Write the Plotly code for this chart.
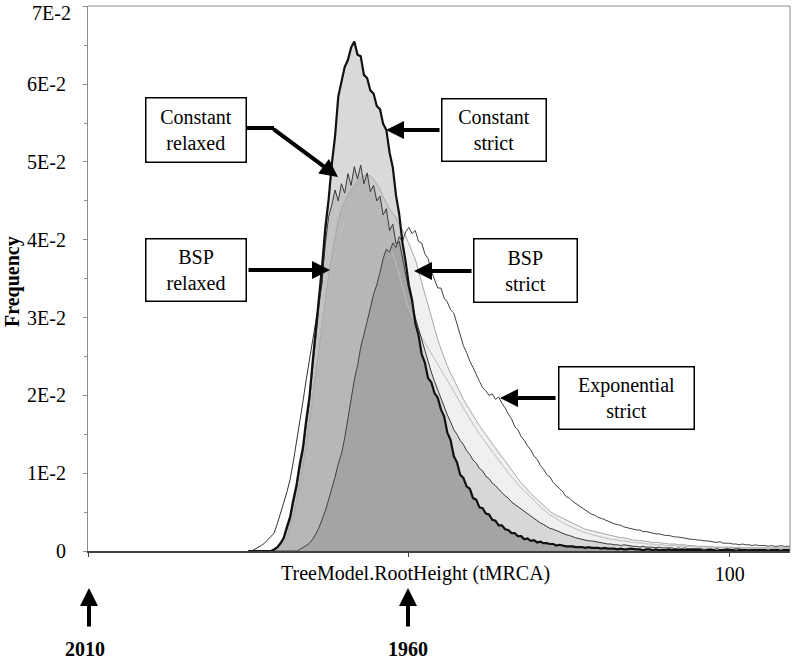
import plotly.graph_objects as go

# bins of the root-height histogram (years before 2010), 0.5 wide
bins = [25 + 0.5 * i for i in range(171)]

# frequencies in units of 1E-2
const_strict = [
    0, 0, 0, 0, 0, 0, 0, 0, 0.02, 0.05,
    0.1, 0.17, 0.31, 0.44, 0.66, 0.85, 1.12, 1.33, 1.68, 1.97,
    2.42, 2.83, 3.33, 3.68, 4.17, 4.52, 4.98, 5.33, 5.84, 6.02,
    6.22, 6.31, 6.47, 6.55, 6.38, 6.36, 6.12, 6.08, 5.92, 5.88,
    5.72, 5.68, 5.49, 5.41, 5.12, 4.93, 4.57, 4.33, 3.97, 3.72,
    3.42, 3.23, 2.93, 2.78, 2.53, 2.42, 2.22, 2.17, 2.03, 1.97,
    1.82, 1.73, 1.52, 1.43, 1.22, 1.14, 0.98, 0.94, 0.83, 0.8,
    0.68, 0.66, 0.56, 0.55, 0.48, 0.47, 0.4, 0.39, 0.33, 0.33,
    0.28, 0.27, 0.23, 0.23, 0.19, 0.19, 0.15, 0.16, 0.13, 0.14,
    0.11, 0.12, 0.1, 0.1, 0.09, 0.09, 0.07, 0.08, 0.07, 0.06,
    0.06, 0.06, 0.05, 0.05, 0.05, 0.04, 0.05, 0.04, 0.04, 0.04,
    0.03, 0.04, 0.03, 0.03, 0.03, 0.02, 0.03, 0.02, 0.02, 0.03,
    0.02, 0.02, 0.02, 0.01, 0.02, 0.02, 0.01, 0.02, 0.01, 0.01,
    0.01, 0.02, 0.01, 0.01, 0.01, 0.01, 0.01, 0.01, 0.01, 0.01,
    0.01, 0.01, 0.0, 0.01, 0.01, 0.01, 0.0, 0.01, 0.01, 0.01,
    0.01, 0.01, 0.0, 0.01, 0.01, 0.01, 0.0, 0.01, 0.01, 0.01,
    0.01, 0.01, 0.0, 0.01, 0.01, 0.01, 0.0, 0.01, 0.01, 0.01,
    0.01,
]
const_relaxed = [
    0, 0, 0, 0, 0, 0, 0, 0, 0.01, 0.04,
    0.08, 0.15, 0.27, 0.4, 0.6, 0.8, 1.05, 1.27, 1.6, 1.9,
    2.33, 2.75, 3.2, 3.55, 3.95, 4.3, 4.45, 4.64, 4.5, 4.72,
    4.6, 4.85, 4.7, 4.94, 4.78, 4.96, 4.72, 4.86, 4.62, 4.7,
    4.5, 4.56, 4.32, 4.4, 4.12, 4.2, 3.95, 3.98, 3.75, 3.56,
    3.36, 3.2, 3.0, 2.86, 2.7, 2.56, 2.42, 2.3, 2.18, 2.07,
    1.96, 1.87, 1.75, 1.66, 1.56, 1.5, 1.42, 1.37, 1.29, 1.24,
    1.17, 1.13, 1.06, 1.03, 0.96, 0.93, 0.87, 0.84, 0.79, 0.75,
    0.71, 0.68, 0.63, 0.6, 0.56, 0.53, 0.5, 0.47, 0.44, 0.42,
    0.39, 0.36, 0.34, 0.31, 0.29, 0.28, 0.26, 0.24, 0.23, 0.21,
    0.2, 0.18, 0.17, 0.16, 0.15, 0.14, 0.13, 0.13, 0.12, 0.11,
    0.1, 0.1, 0.09, 0.09, 0.08, 0.08, 0.07, 0.08, 0.07, 0.06,
    0.06, 0.06, 0.05, 0.06, 0.05, 0.05, 0.05, 0.04, 0.05, 0.04,
    0.04, 0.04, 0.04, 0.03, 0.04, 0.03, 0.04, 0.03, 0.03, 0.03,
    0.03, 0.03, 0.02, 0.03, 0.03, 0.02, 0.03, 0.02, 0.02, 0.03,
    0.02, 0.02, 0.03, 0.02, 0.02, 0.02, 0.02, 0.02, 0.02, 0.02,
    0.02, 0.02, 0.01, 0.02, 0.02, 0.02, 0.01, 0.02, 0.02, 0.01,
    0.02,
]
bsp_relaxed = [
    0, 0, 0, 0, 0, 0, 0, 0, 0.01, 0.03,
    0.06, 0.12, 0.22, 0.35, 0.52, 0.7, 0.92, 1.15, 1.42, 1.72,
    2.02, 2.32, 2.6, 2.9, 3.2, 3.45, 3.65, 3.8, 3.96, 4.12,
    4.25, 4.37, 4.46, 4.52, 4.55, 4.57, 4.56, 4.54, 4.5, 4.46,
    4.4, 4.3, 4.18, 4.05, 3.93, 3.82, 3.7, 3.55, 3.38, 3.24,
    3.12, 3.0, 2.9, 2.82, 2.75, 2.68, 2.61, 2.54, 2.47, 2.4,
    2.33, 2.25, 2.18, 2.11, 2.04, 1.97, 1.9, 1.83, 1.76, 1.7,
    1.63, 1.57, 1.5, 1.45, 1.39, 1.34, 1.28, 1.22, 1.17, 1.12,
    1.06, 1.0, 0.96, 0.91, 0.85, 0.81, 0.76, 0.72, 0.68, 0.64,
    0.6, 0.57, 0.53, 0.5, 0.46, 0.44, 0.41, 0.39, 0.36, 0.34,
    0.32, 0.3, 0.28, 0.27, 0.25, 0.24, 0.22, 0.21, 0.2, 0.19,
    0.18, 0.17, 0.16, 0.15, 0.15, 0.14, 0.13, 0.13, 0.12, 0.12,
    0.11, 0.11, 0.1, 0.1, 0.09, 0.09, 0.09, 0.08, 0.08, 0.08,
    0.07, 0.07, 0.07, 0.07, 0.06, 0.06, 0.06, 0.06, 0.06, 0.05,
    0.05, 0.05, 0.05, 0.05, 0.05, 0.05, 0.04, 0.05, 0.04, 0.04,
    0.04, 0.04, 0.04, 0.04, 0.04, 0.04, 0.04, 0.04, 0.04, 0.04,
    0.04, 0.04, 0.03, 0.04, 0.04, 0.03, 0.04, 0.03, 0.03, 0.04,
    0.03,
]
bsp_strict = [
    0, 0, 0, 0, 0, 0, 0, 0, 0.01, 0.03,
    0.05, 0.1, 0.18, 0.3, 0.45, 0.63, 0.85, 1.08, 1.35, 1.65,
    1.95, 2.27, 2.6, 2.93, 3.25, 3.53, 3.8, 4.05, 4.25, 4.4,
    4.5, 4.58, 4.64, 4.7, 4.75, 4.79, 4.82, 4.83, 4.82, 4.78,
    4.72, 4.65, 4.55, 4.47, 4.4, 4.34, 4.28, 4.2, 4.13, 4.05,
    3.95, 3.86, 3.75, 3.6, 3.45, 3.3, 3.15, 3.0, 2.85, 2.72,
    2.6, 2.48, 2.38, 2.29, 2.2, 2.11, 2.03, 1.95, 1.88, 1.81,
    1.74, 1.67, 1.61, 1.55, 1.5, 1.44, 1.38, 1.32, 1.27, 1.21,
    1.16, 1.1, 1.04, 0.98, 0.93, 0.88, 0.83, 0.78, 0.74, 0.7,
    0.66, 0.62, 0.58, 0.54, 0.51, 0.48, 0.46, 0.43, 0.41, 0.39,
    0.37, 0.35, 0.33, 0.31, 0.3, 0.28, 0.27, 0.26, 0.25, 0.24,
    0.23, 0.22, 0.21, 0.2, 0.19, 0.18, 0.17, 0.17, 0.16, 0.15,
    0.14, 0.14, 0.13, 0.13, 0.12, 0.12, 0.11, 0.11, 0.11, 0.1,
    0.1, 0.09, 0.09, 0.09, 0.08, 0.08, 0.08, 0.07, 0.07, 0.07,
    0.06, 0.06, 0.06, 0.06, 0.06, 0.05, 0.05, 0.05, 0.05, 0.05,
    0.05, 0.05, 0.04, 0.05, 0.04, 0.04, 0.04, 0.04, 0.04, 0.04,
    0.04, 0.04, 0.04, 0.04, 0.04, 0.04, 0.04, 0.04, 0.04, 0.04,
    0.04,
]
exp_strict = [
    0, 0, 0, 0, 0, 0, 0, 0, 0, 0,
    0, 0, 0, 0, 0, 0, 0.02, 0.04, 0.07, 0.1,
    0.15, 0.22, 0.3, 0.41, 0.52, 0.66, 0.79, 0.95, 1.12, 1.25,
    1.45, 1.7, 1.93, 2.2, 2.38, 2.62, 2.78, 2.97, 3.12, 3.3,
    3.42, 3.58, 3.76, 3.88, 3.84, 3.96, 3.9, 4.04, 3.98, 4.1,
    4.16, 4.08, 4.12, 3.98, 3.96, 3.82, 3.76, 3.6, 3.5, 3.38,
    3.38, 3.25, 3.2, 3.1, 3.06, 2.92, 2.78, 2.64, 2.55, 2.44,
    2.36, 2.26, 2.18, 2.1, 2.06, 2.0, 2.02, 1.95, 1.98, 1.9,
    1.84, 1.76, 1.7, 1.6, 1.56, 1.47, 1.42, 1.35, 1.3, 1.22,
    1.18, 1.1, 1.05, 0.98, 0.95, 0.88, 0.84, 0.79, 0.76, 0.7,
    0.68, 0.64, 0.61, 0.58, 0.56, 0.52, 0.5, 0.47, 0.46, 0.43,
    0.42, 0.4, 0.38, 0.37, 0.35, 0.34, 0.33, 0.31, 0.3, 0.29,
    0.28, 0.27, 0.27, 0.25, 0.25, 0.24, 0.23, 0.22, 0.22, 0.21,
    0.2, 0.2, 0.19, 0.18, 0.18, 0.17, 0.16, 0.16, 0.15, 0.15,
    0.14, 0.14, 0.13, 0.13, 0.12, 0.12, 0.11, 0.12, 0.1, 0.1,
    0.1, 0.09, 0.09, 0.08, 0.09, 0.08, 0.08, 0.07, 0.08, 0.07,
    0.07, 0.07, 0.06, 0.07, 0.06, 0.06, 0.07, 0.06, 0.06, 0.06,
    0.06,
]
# unlabelled run: only its early foot shows outside the constant strict curve
foot_bins = bins[1:26]
foot = [
    0, 0.02, 0.04, 0.07, 0.1, 0.14, 0.18, 0.23, 0.35, 0.5,
    0.62, 0.76, 0.92, 1.15, 1.4, 1.63, 1.92, 2.2, 2.45, 2.66,
    2.9, 3.2, 3.45, 4.1, 4.5,
]

labels = ["Constant<br>relaxed", "Constant<br>strict", "BSP<br>relaxed",
          "BSP<br>strict", "Exponential<br>strict"]
y_ticks = [0, 1, 2, 3, 4, 5, 6, 7]
y_ticktext = ["0", "1E-2", "2E-2", "3E-2", "4E-2", "5E-2", "6E-2", "7E-2"]

SERIF = "Liberation Serif, Times New Roman, serif"
L, R, T, B = 88, 2, 6, 111
W, H = 792 - L - R, 662 - T - B


def px(x):
    return (x - L) / W


def py(y):
    return (T + H - y) / H


def scaled(vals):
    return [v / 100 for v in vals]


fig = go.Figure()

# translucent fills first, outlines on top
overlap = [min(e, c) for e, c in zip(exp_strict, const_strict)]
for vals, alpha in [(bsp_strict, 0.06), (const_relaxed, 0.10),
                    (const_strict, 0.15), (overlap, 0.10)]:
    fig.add_trace(go.Scatter(
        x=bins, y=scaled(vals), mode="lines", fill="tozeroy",
        fillcolor=f"rgba(0,0,0,{alpha})", line=dict(width=0),
        hoverinfo="skip", showlegend=False,
    ))

for xs, vals, color, width in [
    (bins, bsp_relaxed, "#bdbdbd", 1),
    (bins, bsp_strict, "#a8a8a8", 1),
    (bins, exp_strict, "#404040", 1),
    (bins, const_relaxed, "#383838", 1),
    (foot_bins, foot, "#333333", 1),
    (bins, const_strict, "#111111", 2.2),
]:
    fig.add_trace(go.Scatter(
        x=xs, y=scaled(vals), mode="lines",
        line=dict(color=color, width=width), showlegend=False,
    ))

# label boxes: (centre x, centre y, width, height) in pixels
boxes = [(196, 130, 102, 66), (494, 130, 106, 64), (196, 270, 102, 64),
         (525, 270, 105, 65), (626, 398, 137, 64)]
for text, (cx, cy, w, h) in zip(labels, boxes):
    fig.add_annotation(
        x=px(cx), y=py(cy), xref="paper", yref="paper", text=text,
        xanchor="center", yanchor="middle",
        showarrow=False, width=w - 3, height=h - 3, borderpad=0,
        bordercolor="black", borderwidth=1.5, bgcolor="white",
        font=dict(family=SERIF, size=20, color="black"),
    )

# arrows: tip, tail
arrows = [((338, 177), (272, 128)), ((386, 130), (441, 130)),
          ((330, 270), (247, 270)), ((414, 271), (473, 271)),
          ((500, 398), (557, 398)), ((89, 588), (89, 628)),
          ((408, 588), (408, 628))]
for (tx, ty), (sx, sy) in arrows:
    fig.add_annotation(
        x=px(tx), y=py(ty), xref="paper", yref="paper", text="",
        showarrow=True, ax=sx - tx, ay=sy - ty, arrowhead=2,
        arrowsize=0.9, arrowwidth=4, arrowcolor="black", standoff=0,
    )
fig.add_shape(type="line", xref="paper", yref="paper",
              x0=px(247), y0=py(128), x1=px(274), y1=py(128),
              line=dict(color="black", width=4))

# frame top and right
fig.add_shape(type="line", xref="paper", yref="paper", x0=0, y0=1, x1=1, y1=1,
              line=dict(color="#8c8c8c", width=1))
fig.add_shape(type="line", xref="paper", yref="paper", x0=1, y0=0, x1=1, y1=1,
              line=dict(color="#8c8c8c", width=1))

for text, cx, cy, bold in [("TreeModel.RootHeight (tMRCA)", 415, 573, False),
                           ("2010", 85, 649, True), ("1960", 408, 649, True)]:
    fig.add_annotation(
        x=px(cx), y=py(cy), xref="paper", yref="paper", text=text,
        xanchor="center", yanchor="middle", showarrow=False,
        font=dict(family=SERIF, size=20, color="black",
                  weight="bold" if bold else "normal"),
    )
fig.add_annotation(
    x=px(12), y=py(282), xref="paper", yref="paper", text="Frequency",
    xanchor="center", yanchor="middle", showarrow=False, textangle=-90,
    font=dict(family=SERIF, size=20, color="black", weight="bold"),
)
# the top tick label sits at the page edge, where the axis would drop it
fig.add_annotation(
    x=px(73), y=py(13), xref="paper", yref="paper", text=y_ticktext[-1],
    xanchor="right", yanchor="middle", showarrow=False,
    font=dict(family=SERIF, size=20, color="black"),
)

fig.update_layout(
    width=792, height=662,
    margin=dict(l=L, r=R, t=T, b=B, autoexpand=False),
    paper_bgcolor="white", plot_bgcolor="white",
    xaxis=dict(
        range=[0, 109.4], showgrid=False, zeroline=False, automargin=False,
        tickvals=[0, 50, 100], ticktext=["", "", "100"],
        ticks="outside", ticklen=4, tickcolor="#404040",
        showline=True, linecolor="#404040", linewidth=1.5,
        tickfont=dict(family=SERIF, size=20, color="black"),
        ticklabelstandoff=0,
    ),
    yaxis=dict(
        range=[0, 0.07005], showgrid=False, zeroline=False, automargin=False,
        tickvals=scaled(y_ticks), ticktext=y_ticktext[:-1] + [""],
        ticks="outside", ticklen=4, tickcolor="#8c8c8c",
        minor=dict(dtick=0.005, ticks="outside", ticklen=3, tickcolor="#8c8c8c"),
        showline=True, linecolor="#8c8c8c", linewidth=1,
        tickfont=dict(family=SERIF, size=20, color="black"),
        ticklabelstandoff=13,
    ),
)

# the page's default 8px body margin would shift the figure; remove it
fig.write_html("out.html", config={"displayModeBar": False},
               post_script="document.body.style.margin = '0';")
